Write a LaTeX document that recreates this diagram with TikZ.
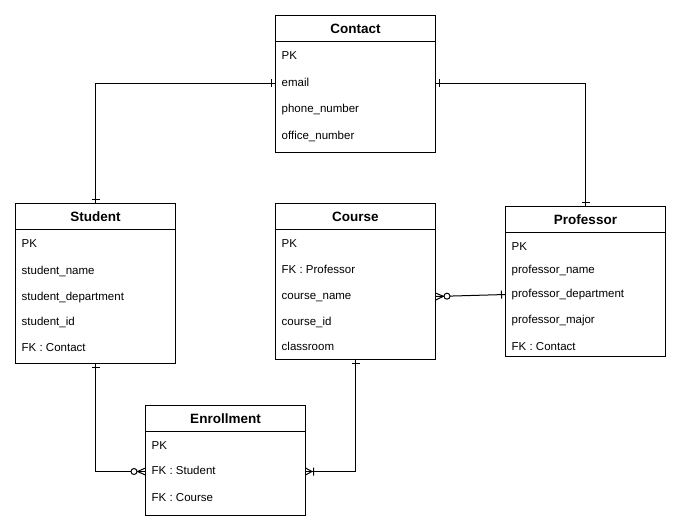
\documentclass[tikz,border=0pt]{standalone}
\usepackage{fontspec}
\setmainfont{Liberation Sans}
\usetikzlibrary{arrows.meta}

% crow's foot ends
\pgfdeclarearrow{
  name = erOne,
  setup code = {
    \pgfarrowssettipend{0pt}
    \pgfarrowssetlineend{0pt}
    \pgfarrowssetbackend{-5pt}
  },
  drawing code = {
    \pgfpathmoveto{\pgfpoint{-4pt}{-4pt}}
    \pgfpathlineto{\pgfpoint{-4pt}{4pt}}
    \pgfusepathqstroke
  }
}
\pgfdeclarearrow{
  name = erOneMany,
  setup code = {
    \pgfarrowssettipend{0pt}
    \pgfarrowssetlineend{0pt}
    \pgfarrowssetbackend{-9pt}
  },
  drawing code = {
    \pgfpathmoveto{\pgfpoint{0pt}{3.5pt}}
    \pgfpathlineto{\pgfpoint{-6.5pt}{0pt}}
    \pgfpathlineto{\pgfpoint{0pt}{-3.5pt}}
    \pgfpathmoveto{\pgfpoint{-8pt}{-4pt}}
    \pgfpathlineto{\pgfpoint{-8pt}{4pt}}
    \pgfusepathqstroke
  }
}
\pgfdeclarearrow{
  name = erZeroMany,
  setup code = {
    \pgfarrowssettipend{0pt}
    \pgfarrowssetlineend{0pt}
    \pgfarrowssetbackend{-15pt}
  },
  drawing code = {
    \pgfpathmoveto{\pgfpoint{0pt}{3.5pt}}
    \pgfpathlineto{\pgfpoint{-8pt}{0pt}}
    \pgfpathlineto{\pgfpoint{0pt}{-3.5pt}}
    \pgfusepathqstroke
    \pgfsetfillcolor{white}
    \pgfpathcircle{\pgfpoint{-11.5pt}{0pt}}{3pt}
    \pgfusepathqfillstroke
  }
}

\tikzstyle{tablehead}=[draw,line width=1pt,outer sep=0pt,inner sep=0pt,minimum width=160pt,minimum height=26pt,anchor=north west,font=\fontsize{13.5}{15}\selectfont\bfseries]
\tikzstyle{tablebody}=[draw,line width=1pt,outer sep=0pt,inner sep=0pt,minimum width=160pt,anchor=north]
\tikzstyle{field}=[anchor=west,inner sep=0pt,text height=8pt,text depth=2pt,font=\fontsize{11.5}{13}\selectfont]
\tikzstyle{link}=[line width=1pt]

\begin{document}
\begin{tikzpicture}[x=1pt,y=-1pt]
  \fill[white] (0,0) rectangle (681,531);
  \useasboundingbox (0,0) rectangle (681,531);

  % Contact
  \node[tablehead] (contact) at (275.5,15.5) {Contact};
  \node[tablebody,minimum height=111pt] (contact-body) at (contact.south) {};
  \foreach \i/\y/\text in {1/56.5/PK, 2/83/email, 3/109.5/phone\_number, 4/136/office\_number}
    \node[field] (contact-\i) at (281.5,\y) {\text};

  % Student
  \node[tablehead] (student) at (15.5,203.5) {Student};
  \node[tablebody,minimum height=134pt] (student-body) at (student.south) {};
  \foreach \i/\y/\text in {1/244.5/PK, 2/271/student\_name, 3/297/student\_department,
                           4/322.3/student\_id, 5/348/FK : Contact}
    \node[field] (student-\i) at (21.5,\y) {\text};

  % Course
  \node[tablehead] (course) at (275.5,203.5) {Course};
  \node[tablebody,minimum height=130pt] (course-body) at (course.south) {};
  \foreach \i/\y/\text in {1/244.3/PK, 2/270/FK : Professor, 3/296.5/course\_name,
                           4/322.7/course\_id, 5/347.7/classroom}
    \node[field] (course-\i) at (281.5,\y) {\text};

  % Professor
  \node[tablehead] (professor) at (505.5,206.5) {Professor};
  \node[tablebody,minimum height=124pt] (professor-body) at (professor.south) {};
  \foreach \i/\y/\text in {1/247.3/PK, 2/270.7/professor\_name, 3/294.5/professor\_department,
                           4/320/professor\_major, 5/347/FK : Contact}
    \node[field] (professor-\i) at (511.5,\y) {\text};

  % Enrollment
  \node[tablehead] (enrollment) at (145.5,405.5) {Enrollment};
  \node[tablebody,minimum height=84pt] (enrollment-body) at (enrollment.south) {};
  \foreach \i/\y/\text in {1/446/PK, 2/471.5/FK : Student, 3/498.5/FK : Course}
    \node[field] (enrollment-\i) at (151.5,\y) {\text};

  % relations
  \draw[link,{erOne}-{erOne}] (student.north) |- (contact-body.west |- contact-2);
  \draw[link,{erOne}-{erOne}] (contact-body.east |- contact-2) -| (professor.north);
  \draw[link,{erZeroMany}-{erOne}] (course-body.east |- course-3) -- (professor-body.west |- professor-3);
  \draw[link,{erOne}-{erZeroMany}] (student-body.south) |- (enrollment-body.west |- enrollment-2);
  \draw[link,{erOne}-{erOneMany}] (course-body.south) |- (enrollment-body.east |- enrollment-2);
\end{tikzpicture}
\end{document}
